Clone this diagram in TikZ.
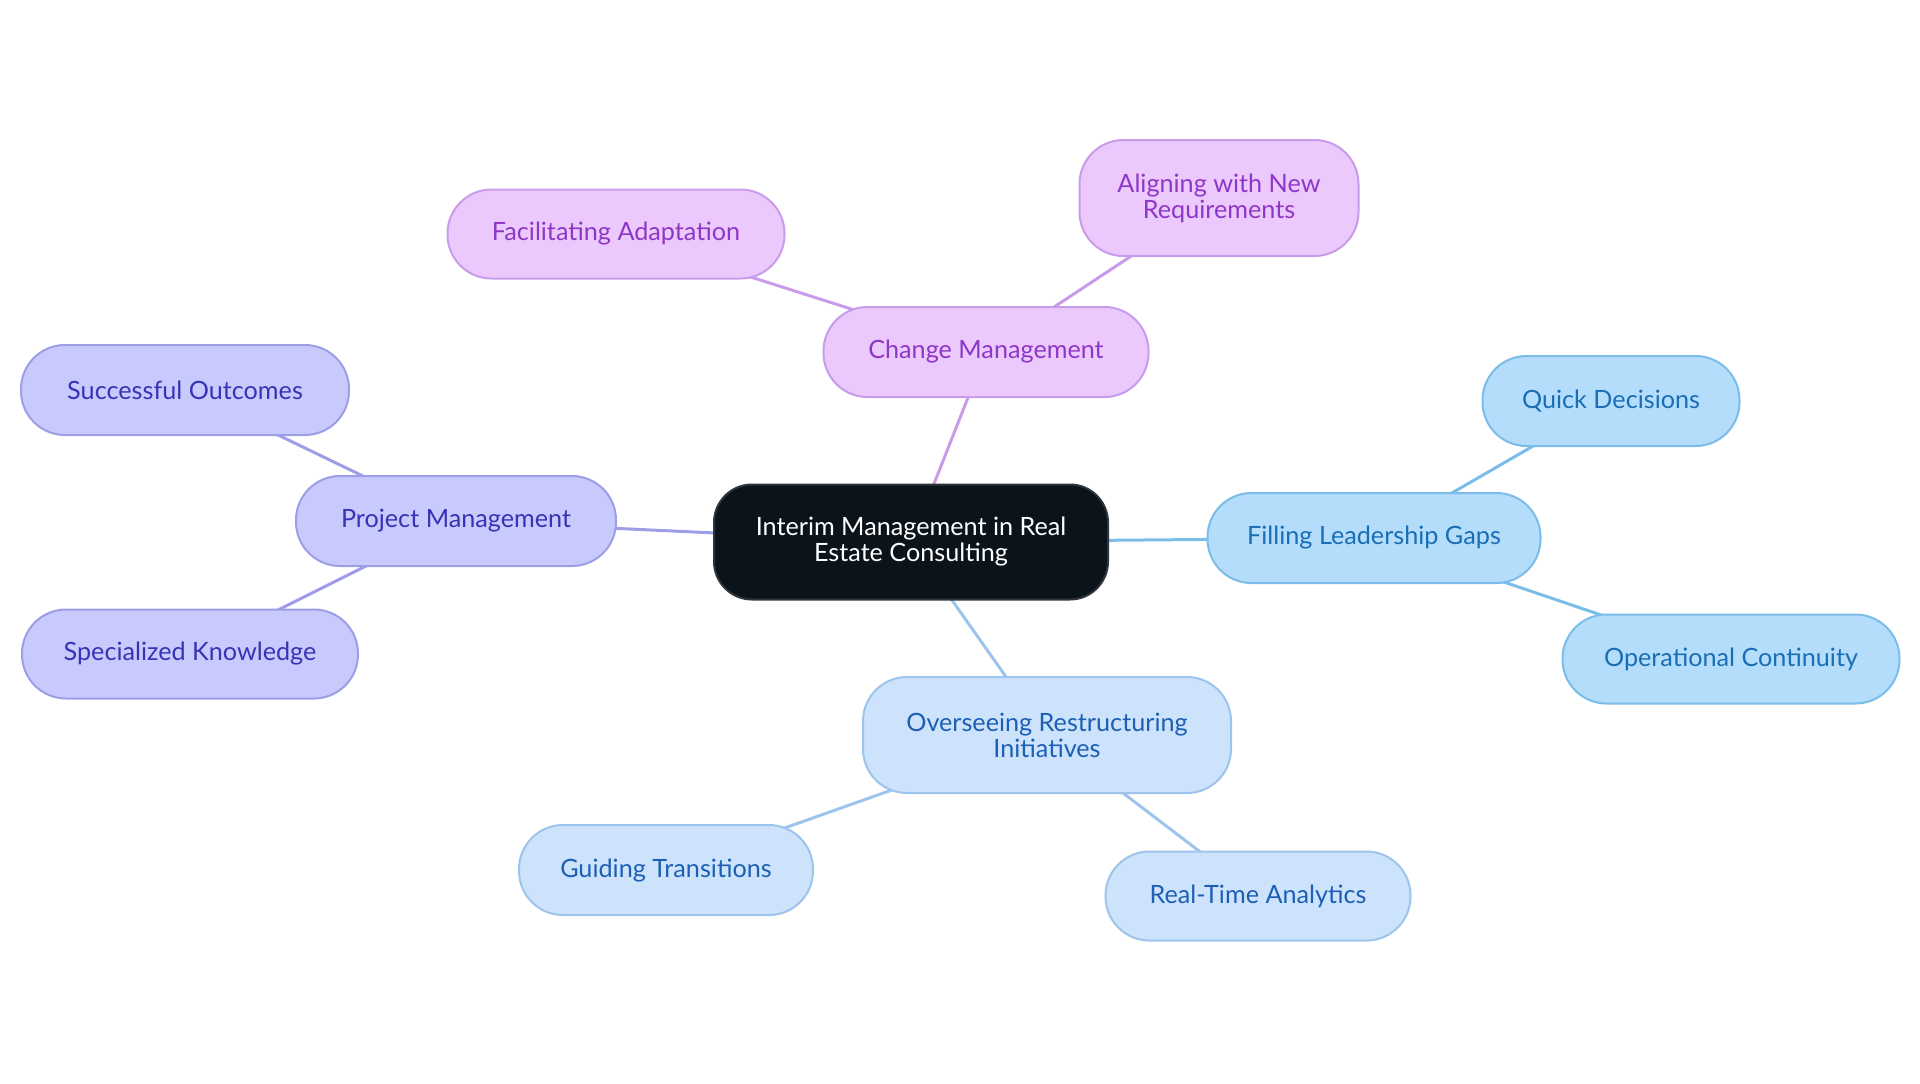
\documentclass[tikz,border=0pt]{standalone}
\usepackage{fontspec}
\setmainfont{Lato}
\usetikzlibrary{backgrounds}
\definecolor{centfill}{HTML}{0B141B}
\definecolor{purfill}{HTML}{EBC9FC}
\definecolor{purline}{HTML}{C99CEA}
\definecolor{purtext}{HTML}{8E36C8}
\definecolor{vioFill}{HTML}{C8CAFE}
\definecolor{vioLine}{HTML}{9C9EE6}
\definecolor{vioText}{HTML}{3434B4}
\definecolor{skyFill}{HTML}{B3DDFB}
\definecolor{skyLine}{HTML}{7BBDE8}
\definecolor{skyText}{HTML}{1A6EB5}
\definecolor{palFill}{HTML}{CDE3FB}
\definecolor{palLine}{HTML}{9CC4EC}
\definecolor{palText}{HTML}{1C5FB5}
\tikzset{
  box/.style={draw, line width=1pt, rounded corners=44*0.5pt, align=center, inner sep=0pt, font=\fontsize{12.6}{13}\selectfont},
  cent/.style={box, fill=centfill, draw=centfill!70!gray, text=white, rounded corners=38*0.5pt},
  pur/.style={box, fill=purfill, draw=purline, text=purtext},
  vio/.style={box, fill=vioFill, draw=vioLine, text=vioText},
  sky/.style={box, fill=skyFill, draw=skyLine, text=skyText},
  pal/.style={box, fill=palFill, draw=palLine, text=palText},
  link/.style={line width=1.5pt},
}
\newcommand{\bx}[6]{\node[#1, minimum width=#4*0.5pt, minimum height=#5*0.5pt] (#6) at (#2,#3)}
\newcommand{\tx}[1]{\raisebox{-1pt}{\begin{tabular}{@{}c@{}}#1\end{tabular}}}
\begin{document}
\begin{tikzpicture}[x=0.5pt,y=-0.5pt]
\useasboundingbox (0,0) rectangle (1920,1083);
\bx{cent}{911}{542}{394}{115}{c} {Interim Management in Real\\Estate Consulting};
\bx{pur}{986}{352}{325}{90}{cm} {Change Management};
\bx{pur}{616}{234}{337}{89}{fa} {Facilitating Adaptation};
\bx{pur}{1219}{198}{279}{116}{al} {Aligning with New\\Requirements};
\bx{vio}{456}{521}{320}{90}{pm} {Project Management};
\bx{vio}{185}{390}{328}{90}{so} {Successful Outcomes};
\bx{vio}{190}{654}{336}{89}{sk} {Specialized Knowledge};
\bx{sky}{1374}{538}{333}{90}{fl} {Filling Leadership Gaps};
\bx{sky}{1611}{401}{257}{90}{qd} {Quick Decisions};
\bx{sky}{1731}{659}{337}{89}{oc} {Operational Continuity};
\bx{pal}{1047}{735}{368}{116}{or} {Overseeing Restructuring\\Initiatives};
\bx{pal}{666}{870}{294}{90}{gt} {Guiding Transitions};
\bx{pal}{1258}{896}{305}{89}{rt} {Real-Time Analytics};
\begin{scope}[on background layer]
\draw[link, purline] (c.center) -- (cm.center);
\draw[link, purline] (cm.center) -- (fa.center);
\draw[link, purline] (cm.center) -- (al.center);
\draw[link, vioLine] (c.center) -- (pm.center);
\draw[link, vioLine] (pm.center) -- (so.center);
\draw[link, vioLine] (pm.center) -- (sk.center);
\draw[link, skyLine] (c.center) -- (fl.center);
\draw[link, skyLine] (fl.center) -- (qd.center);
\draw[link, skyLine] (fl.center) -- (oc.center);
\draw[link, palLine] (c.center) -- (or.center);
\draw[link, palLine] (or.center) -- (gt.center);
\draw[link, palLine] (or.center) -- (rt.center);
\end{scope}
\end{tikzpicture}
\end{document}
